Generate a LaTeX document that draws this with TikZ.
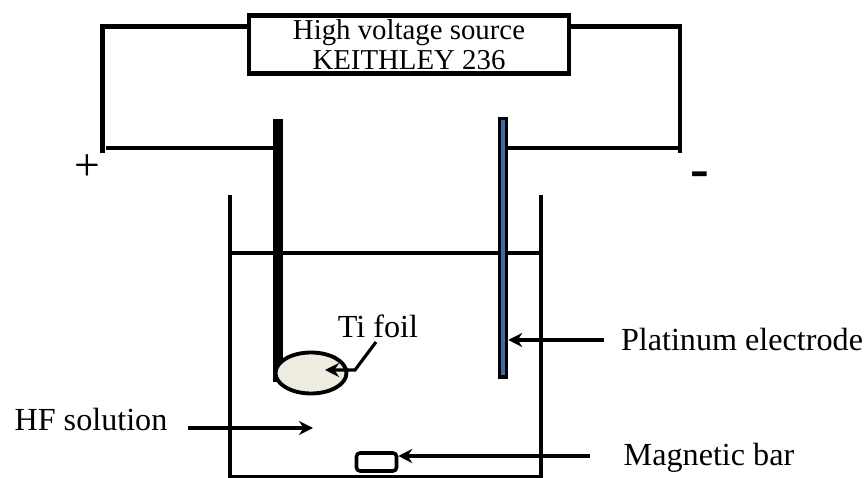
\documentclass[tikz,border=0pt]{standalone}
\usepackage{fontspec}
\setmainfont{Liberation Serif}
\usetikzlibrary{arrows.meta,shapes.geometric}
\tikzset{
  wire/.style={line width=2.4pt},
  glass/.style={line width=1.8pt},
  pointer/.style={line width=1.8pt,-{Stealth[length=8pt,width=8pt]}},
  label/.style={inner sep=0pt,font=\fontsize{18.3}{21}\selectfont}
}
\definecolor{foil}{HTML}{EEECE1}
\definecolor{platinum}{HTML}{3A6AA8}
\begin{document}
\begin{tikzpicture}
          \useasboundingbox (0,0) rectangle (17.34,9.56);
          \node[draw,line width=2.3pt,minimum width=6.4cm,minimum height=1.16cm,align=center,inner sep=0pt,font=\fontsize{16.4}{17}\selectfont] (source) at (8.18,8.67) {High voltage source\\KEITHLEY 236};
          \coordinate (lefttop) at (2.05,9.03);
          \coordinate (leftend) at (2.05,6.5);
          \coordinate (righttop) at (13.6,9.03);
          \coordinate (rightend) at (13.6,6.5);
          \coordinate (leftwire) at (2.12,6.6);
          \coordinate (rightwire) at (10.16,6.6);
          \coordinate (sourceleft) at (source.west |- lefttop);
          \coordinate (sourceright) at (source.east |- righttop);
          \draw[wire] (sourceleft) -- (lefttop) -- (leftend);
          \draw[wire] (sourceright) -- (righttop) -- (rightend);
          \coordinate (beakerlt) at (4.6,5.66);
          \coordinate (beakerlb) at (4.6,0.02);
          \coordinate (beakerrt) at (10.82,5.66);
          \coordinate (beakerrb) at (10.82,0.02);
          \coordinate (levell) at (4.6,4.5);
          \coordinate (levelr) at (10.82,4.5);
          \draw[glass] (beakerlt) -- (beakerlb) -- (beakerrb) -- (beakerrt);
          \draw[glass] (levell) -- (levelr);
          \node[fill=black,inner sep=0pt,minimum width=0.19cm,minimum height=5.26cm] (anode) at (5.56,4.55) {};
          \node[draw=black,fill=platinum,line width=2pt,inner sep=0pt,minimum width=0.14cm,minimum height=5.17cm] (cathode) at (10.06,4.6) {};
          \draw[wire] (leftwire) -- (anode.west |- leftwire);
          \draw[wire] (rightwire) -- (rightend |- rightwire);
          \node[ellipse,draw,fill=foil,line width=2.2pt,inner sep=0pt,minimum width=1.42cm,minimum height=0.82cm] (foil) at (6.22,2.1) {};
          \node[draw,rounded corners=2pt,line width=2pt,inner sep=0pt,minimum width=0.8cm,minimum height=0.36cm] (bar) at (7.53,0.32) {};
          \node[label] (tilabel) at (7.56,3.04) {Ti foil};
          \node[label] (ptlabel) at (14.84,2.76) {Platinum electrode};
          \node[label] (barlabel) at (14.18,0.4) {Magnetic bar};
          \node[label] (hflabel) at (1.82,1.16) {HF solution};
          \node[font=\fontsize{26}{28}\selectfont,inner sep=0pt] (plus) at (1.74,6.2) {+};
          \node[font=\bfseries\fontsize{32}{34}\selectfont,inner sep=0pt] (minus) at (14.0,5.96) {-};
          \coordinate (tistart) at (7.52,2.72);
          \coordinate (tibend) at (7.1,2.16);
          \coordinate (tiend) at (6.5,2.16);
          \coordinate (ptstart) at (12.08,2.76);
          \coordinate (barstart) at (11.8,0.44);
          \coordinate (hfstart) at (3.76,1.0);
          \coordinate (hfend) at (6.26,1.0);
          \draw[pointer] (tistart) -- (tibend) -- (tiend);
          \draw[pointer] (ptstart) -- (cathode.east |- ptstart);
          \draw[pointer] (barstart) -- (bar.east |- barstart);
          \draw[pointer] (hfstart) -- (hfend);
        \end{tikzpicture}
\end{document}
